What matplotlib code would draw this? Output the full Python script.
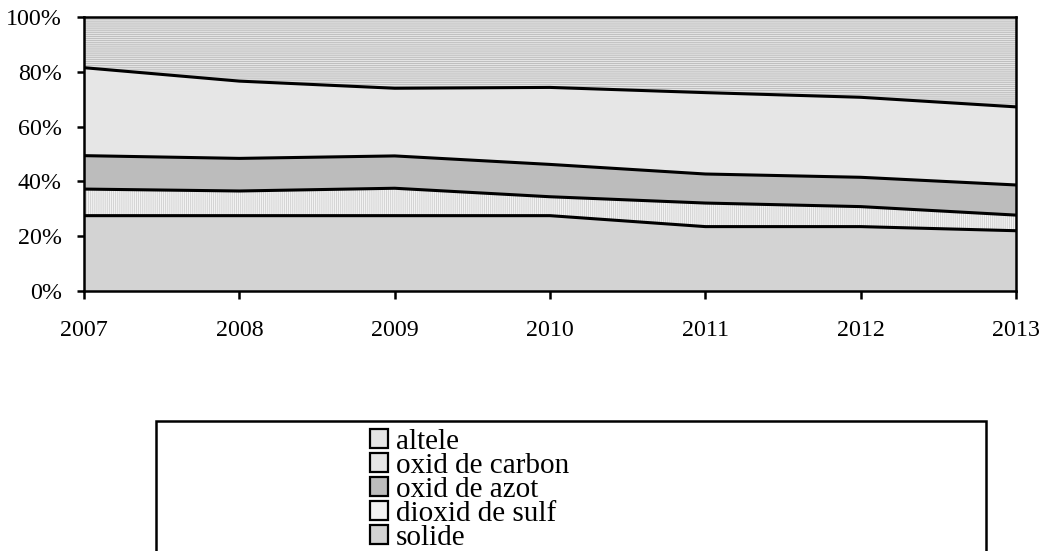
import matplotlib
matplotlib.use("Agg")
import matplotlib.pyplot as plt
from matplotlib.patches import Rectangle, Patch
import numpy as np

years = [2007, 2008, 2009, 2010, 2011, 2012, 2013]
solide = [27.5, 27.5, 27.5, 27.5, 23.5, 23.5, 22.0]
dioxid_de_sulf = [9.7, 9.0, 10.0, 6.9, 8.6, 7.3, 5.7]
oxid_de_azot = [12.2, 11.9, 11.8, 11.8, 10.6, 10.7, 11.0]
oxid_de_carbon = [32.1, 28.2, 24.7, 28.1, 29.7, 29.2, 28.5]
altele = [18.5, 23.4, 26.0, 25.7, 27.6, 29.3, 32.8]
series_names = ["solide", "dioxid de sulf", "oxid de azot", "oxid de carbon", "altele"]
y_ticks = [0, 20, 40, 60, 80, 100]
y_tick_labels = ["0%", "20%", "40%", "60%", "80%", "100%"]

plt.rcParams['font.family'] = ['Liberation Serif', 'DejaVu Serif']
plt.rcParams['hatch.linewidth'] = 0.6

W, H = 1042, 551
fig = plt.figure(figsize=(W / 100, H / 100), dpi=100)
ax = fig.add_axes([84 / W, 1 - 291 / H, (1016 - 84) / W, (291 - 17) / H])

series = [solide, dioxid_de_sulf, oxid_de_azot, oxid_de_carbon, altele]
faces = ["#d3d3d3", "#f2f2f2", "#bcbcbc", "#e6e6e6", "#e4e4e4"]
hatch_cols = ["#bdbdbd", "#cfcfcf", "#a6a6a6", "#cccccc", "#b8b8b8"]
hatches = [None, "|" * 8, None, None, "-" * 8]

x = np.array(years, dtype=float)
cum = np.zeros(len(years))
handles = []
for vals, name, fc, hc, ht in zip(series, series_names, faces, hatch_cols, hatches):
    top = cum + np.array(vals)
    ax.fill_between(x, cum, top, facecolor=fc, edgecolor=hc, linewidth=0,
                    hatch=ht, zorder=1)
    if name != "altele":
        ax.plot(x, top, color="black", lw=2.2, zorder=3, solid_joinstyle="round")
    handles.append(Patch(facecolor=fc, edgecolor="black", linewidth=1.6, label=name))
    cum = top

ax.set_xlim(2007, 2013)
ax.set_ylim(0, 100)
ax.set_xticks(years)
ax.set_xticklabels([str(y) for y in years])
ax.set_yticks(y_ticks)
ax.set_yticklabels(y_tick_labels)
for s in ax.spines.values():
    s.set_linewidth(1.8)
    s.set_zorder(4)
ax.tick_params(axis='y', direction='out', length=5, width=1.8, labelsize=17.3, pad=11)
ax.tick_params(axis='x', direction='out', length=6, width=1.8, labelsize=17.3, pad=15)

# legend frame
fig.patches.append(Rectangle((156 / W, -0.01), (986 - 156) / W, 1 - 421 / H + 0.01,
                             transform=fig.transFigure, fill=False,
                             edgecolor="black", linewidth=1.8))

leg = fig.legend(handles=handles[::-1], loc="upper left",
                 bbox_to_anchor=(370 / W, 1 - 429 / H), frameon=False,
                 fontsize=21, handlelength=0.62, handleheight=0.62,
                 handletextpad=0.27, labelspacing=-0.07, borderpad=0, borderaxespad=0)

fig.savefig("out.png", dpi=100)
